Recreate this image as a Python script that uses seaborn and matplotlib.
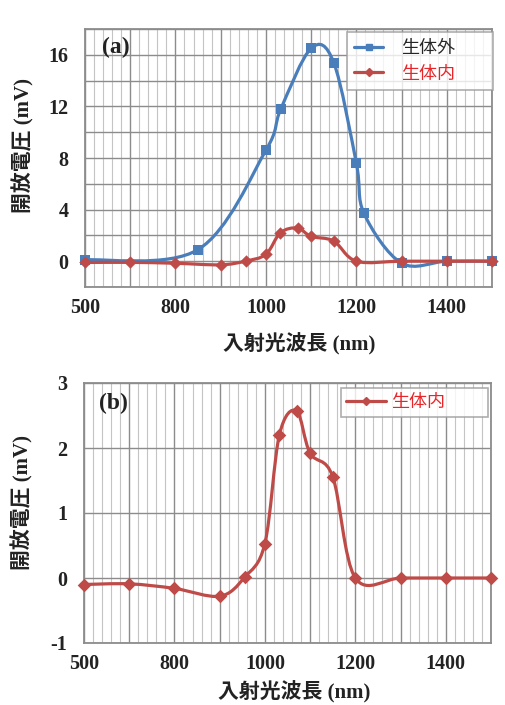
import numpy as np
import pandas as pd
import matplotlib
matplotlib.use("Agg")
import matplotlib.pyplot as plt
from matplotlib.path import Path
from matplotlib.patches import PathPatch
from matplotlib.lines import Line2D
from matplotlib.ticker import FixedLocator
import seaborn as sns

# ---------------- data ----------------
wl_out = [600, 850, 1000, 1033, 1100, 1150, 1200, 1217, 1300, 1400, 1500]
v_out = [0.1, 0.9, 8.6, 11.8, 16.5, 15.4, 7.6, 3.7, -0.15, 0.0, 0.0]

wl_in = [600, 700, 800, 900, 955, 1000, 1032, 1070, 1100, 1150, 1200, 1300, 1400, 1500]
v_in = [-0.10, -0.09, -0.16, -0.28, 0.01, 0.53, 2.20, 2.57, 1.92, 1.56, 0.0, 0.0, 0.0, 0.0]

xtick_pos = [600, 800, 1000, 1200, 1400]
xtick_labels = ["500", "800", "1000", "1200", "1400"]
yticks_a = [0, 4, 8, 12, 16]
yticks_b = [-1, 0, 1, 2, 3]

label_out = "生体外"
label_in = "生体内"
xlabel = "入射光波長 (nm)"
ylabel = "開放電圧 (mV)"

BLUE = "#4A7EBB"
RED = "#BE4B48"
LEG_RED = "#E8262A"

sns.set_style("white")
plt.rcParams['font.family'] = ['Liberation Serif', 'Noto Sans CJK JP', 'DejaVu Sans']

LBL_FAM = ['Liberation Serif', 'Noto Sans CJK JP']
CJK_FAM = ['Noto Sans CJK JP', 'DejaVu Sans']


def smooth_path(ax, xs, ys, color, lw):
    """Excel-like smoothed line: cubic Bezier segments through the data points."""
    P = np.column_stack([xs, ys]).astype(float)
    n = len(P)
    verts = [P[0]]
    codes = [Path.MOVETO]
    for i in range(n - 1):
        p0 = P[i - 1] if i > 0 else P[i]
        p1 = P[i]
        p2 = P[i + 1]
        p3 = P[i + 2] if i + 2 < n else P[i + 1]
        c1 = p1 + (p2 - p0) / 6.0
        c2 = p2 - (p3 - p1) / 6.0
        verts += [c1, c2, p2]
        codes += [Path.CURVE4] * 3
    patch = PathPatch(Path(verts, codes), facecolor='none', edgecolor=color,
                      lw=lw, transform=ax.transData, zorder=3, capstyle='round',
                      joinstyle='round')
    ax.add_patch(patch)


def style_axes(ax, ymin, ymax, ymajor_grid, yticks):
    ax.set_xlim(600, 1500)
    ax.set_ylim(ymin, ymax)
    ax.xaxis.set_major_locator(FixedLocator(xtick_pos))
    ax.set_xticklabels(xtick_labels)
    ax.yaxis.set_major_locator(FixedLocator(yticks))
    ax.set_yticklabels([str(t) for t in yticks])
    for x in np.arange(600, 1501, 20):
        major = (x % 100 == 0)
        ax.axvline(x, color="#8c8c8c" if major else "#c4c4c4",
                   lw=1.0 if major else 0.8, zorder=0)
    for y in np.arange(ymin, ymax + 1e-9, ymajor_grid):
        ax.axhline(y, color="#8c8c8c", lw=1.0, zorder=0)
    for s in ax.spines.values():
        s.set_color("#8c8c8c")
        s.set_linewidth(1.3)
    ax.tick_params(axis='both', length=0)
    ax.tick_params(axis='y', pad=12)
    ax.tick_params(axis='x', pad=8)
    for lab in ax.get_xticklabels() + ax.get_yticklabels():
        lab.set_fontfamily('Liberation Serif')
        lab.set_fontweight('bold')
        lab.set_fontsize(14.5)
        lab.set_color('#222222')
    ax.set_xlabel(xlabel, family=LBL_FAM, fontweight='bold', fontsize=15, color='#222222')
    ax.set_ylabel(ylabel, family=LBL_FAM, fontweight='bold', fontsize=15, color='#222222')


fig = plt.figure(figsize=(5.05, 7.05), dpi=100)
fig.patch.set_facecolor('white')

# ---------------- panel (a) ----------------
ax1 = fig.add_axes([85 / 505, 1 - 287 / 705, 407 / 505, 258 / 705])
style_axes(ax1, -2, 18, 2, yticks_a)
df_out = pd.DataFrame({"wl": wl_out, "v": v_out})
df_in = pd.DataFrame({"wl": wl_in, "v": v_in})
smooth_path(ax1, wl_out, v_out, BLUE, 2.3)
smooth_path(ax1, wl_in, v_in, RED, 2.3)
sns.scatterplot(data=df_out, x="wl", y="v", ax=ax1, marker="s", s=42, color=BLUE,
                edgecolor=BLUE, linewidth=0, zorder=4, legend=False, clip_on=False)
sns.scatterplot(data=df_in, x="wl", y="v", ax=ax1, marker="D", s=40, color=RED,
                edgecolor=RED, linewidth=0, zorder=5, legend=False, clip_on=False)
ax1.set_xlabel(xlabel)
ax1.xaxis.set_label_coords(0.526, -0.178)
ax1.yaxis.set_label_coords(-0.125, 0.547)
ax1.text(0.042, 0.93, "(a)", transform=ax1.transAxes, family='Liberation Serif',
         fontweight='bold', fontsize=17, va='center', ha='left', color='#222222', zorder=6)
h1 = [Line2D([], [], color=BLUE, lw=2.3, marker='s', ms=5),
      Line2D([], [], color=RED, lw=2.3, marker='D', ms=4.5)]
leg1 = ax1.legend(h1, [label_out, label_in], loc='upper left', mode='expand',
                  bbox_to_anchor=(0.644, 0.0, 0.359, 0.988),
                  borderaxespad=0, frameon=True, fancybox=False, prop={'family': CJK_FAM, 'size': 13},
                  handlelength=1.6, handletextpad=1.0, labelspacing=0.4, borderpad=0.4)
leg1.get_frame().set_edgecolor('#9a9a9a')
leg1.get_frame().set_linewidth(1.2)
leg1.get_texts()[1].set_color(LEG_RED)
leg1.set_zorder(10)

# ---------------- panel (b) ----------------
ax2 = fig.add_axes([84 / 505, 1 - 643 / 705, 407 / 505, 260 / 705])
style_axes(ax2, -1, 3, 1, yticks_b)
smooth_path(ax2, wl_in, v_in, RED, 2.3)
sns.scatterplot(data=df_in, x="wl", y="v", ax=ax2, marker="D", s=48, color=RED,
                edgecolor=RED, linewidth=0, zorder=5, legend=False, clip_on=False)
ax2.set_xlabel(xlabel)
ax2.xaxis.set_label_coords(0.516, -0.148)
ax2.yaxis.set_label_coords(-0.125, 0.54)
ax2.text(0.037, 0.921, "(b)", transform=ax2.transAxes, family='Liberation Serif',
         fontweight='bold', fontsize=17, va='center', ha='left', color='#222222', zorder=6)
h2 = [Line2D([], [], color=RED, lw=2.3, marker='D', ms=4.5)]
leg2 = ax2.legend(h2, [label_in], loc='upper left', mode='expand',
                  bbox_to_anchor=(0.631, 0.0, 0.361, 0.981),
                  borderaxespad=0, frameon=True, fancybox=False, prop={'family': CJK_FAM, 'size': 13},
                  handlelength=2.2, handletextpad=0.3, borderpad=0.3)
leg2.get_frame().set_edgecolor('#9a9a9a')
leg2.get_frame().set_linewidth(1.2)
leg2.get_texts()[0].set_color(LEG_RED)
leg2.set_zorder(10)

fig.savefig("out.png", dpi=100, facecolor='white')
